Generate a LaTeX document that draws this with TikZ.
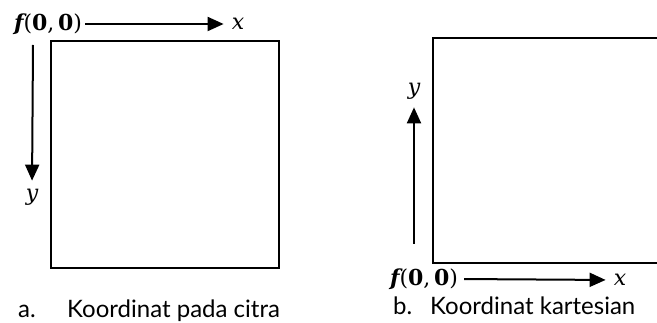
\documentclass[tikz,border=0pt]{standalone}
\usepackage{fontspec}
\setsansfont{Lato}
\newfontfamily\mathlike{DejaVu Serif}
\usetikzlibrary{arrows.meta}

% f(0,0) label, set like the math in the reference
\newcommand{\origin}{{\bfseries\itshape f}(\textbf{0},\,\textbf{0})}

\begin{document}
\begin{tikzpicture}[x=1pt, y=-1pt, >={Triangle[length=16pt,width=14pt]}]

    \tikzstyle{frame}=[line width=2.6pt, line join=miter]
    \tikzstyle{axis}=[line width=2pt, ->]
    \tikzstyle{lbl}=[inner sep=0pt, font=\mathlike\fontsize{22}{25}\selectfont]
    \tikzstyle{caption}=[inner sep=0pt, anchor=base west, font=\sffamily\fontsize{24}{27}\selectfont]

    \useasboundingbox (0,0) rectangle (657,323);

    % --- a. Koordinat pada citra ---
    \draw[frame] (51,41) rectangle (279,268);

    \node[lbl] (fa) at (48,24) {\origin};
    \node[lbl] (xa) at (238,24) {\itshape x};
    \draw[axis, shorten <=3pt, shorten >=8pt] (fa.east) -- (xa.west);

    \coordinate (ya0) at (33,45);
    \node[lbl] (ya) at (32,197) {\itshape y};
    \draw[axis, shorten >=8pt] (ya0) -- (ya.north);

    \node[caption] (capa) at (18,318) {a.};
    \node[caption] (capatext) at (67,318) {Koordinat pada citra};

    % --- b. Koordinat kartesian ---
    \draw[frame] (657,38) -- (433,38) -- (433,263) -- (657,263);

    \coordinate (yb0) at (414,244);
    \node[lbl] (yb) at (414,91) {\itshape y};
    \draw[axis, shorten >=8pt] (yb0) -- (yb.south);

    \node[lbl] (fb) at (424,279) {\origin};
    \node[lbl] (xb) at (620,280) {\itshape x};
    \draw[axis, shorten <=6pt, shorten >=8pt] (fb.east) -- (xb.west);

    \node[caption] (capb) at (393,315) {b.};
    \node[caption] (capbtext) at (430,315) {Koordinat kartesian};

\end{tikzpicture}
\end{document}
